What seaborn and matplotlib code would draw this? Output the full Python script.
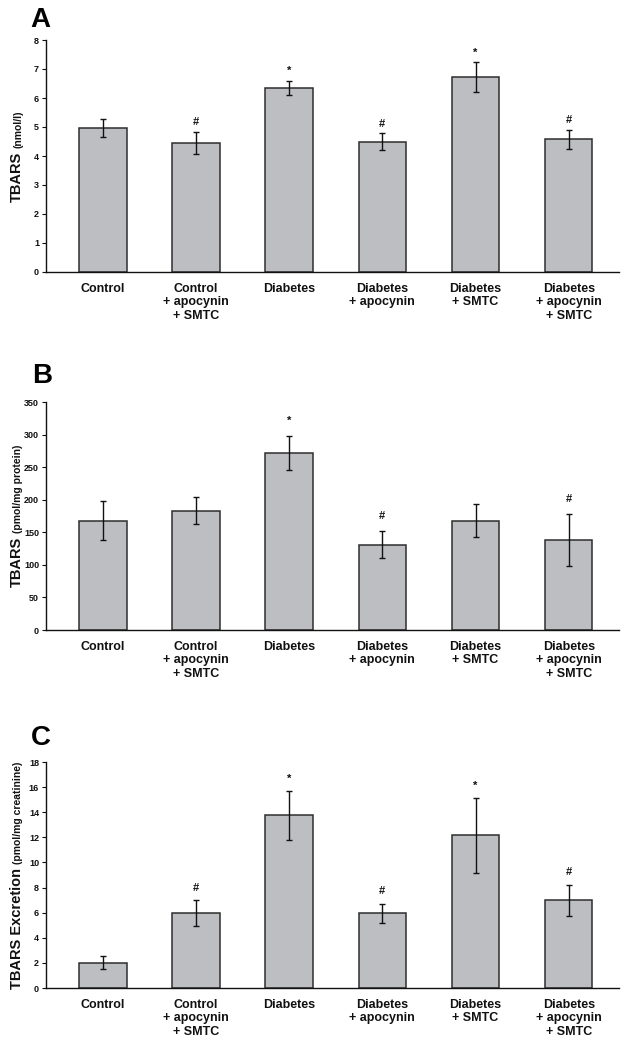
import matplotlib
matplotlib.use('Agg')
import matplotlib.pyplot as plt
import seaborn as sns
import pandas as pd

# Data
groups = ["Control", "Control\n+ apocynin\n+ SMTC", "Diabetes",
          "Diabetes\n+ apocynin", "Diabetes\n+ SMTC",
          "Diabetes\n+ apocynin\n+ SMTC"]

plasma_tbars = [4.97, 4.45, 6.35, 4.49, 6.72, 4.57]
plasma_sem = [0.30, 0.37, 0.25, 0.29, 0.51, 0.32]
plasma_marks = ["", "#", "*", "#", "*", "#"]

tissue_tbars = [168, 183, 272, 131, 168, 138]
tissue_sem = [30, 21, 26, 21, 26, 40]
tissue_marks = ["", "", "*", "#", "", "#"]

urine_tbars = [2.0, 5.95, 13.75, 5.95, 12.15, 7.0]
urine_sem = [0.52, 1.05, 1.93, 0.78, 2.97, 1.23]
urine_marks = ["", "#", "*", "#", "*", "#"]

# Style
sns.set_style('ticks')
plt.rcParams['font.family'] = ['Liberation Sans', 'DejaVu Sans']
plt.rcParams['font.weight'] = 'bold'
for key in ('text.color', 'axes.labelcolor', 'xtick.color', 'ytick.color'):
    plt.rcParams[key] = '#111111'

BAR = '#bdbec2'
EDGE = '#2e2e2e'
W, H = 624, 1042

fig = plt.figure(figsize=(W / 100, H / 100), dpi=100)
renderer = fig.canvas.get_renderer()


def add_ax(left, top, right, bottom):
    return fig.add_axes([left / W, 1 - bottom / H,
                         (right - left) / W, (bottom - top) / H])


def ylabel(ax, main, unit):
    # big bold name followed by a smaller unit, centred on the axis
    pos = ax.get_position()
    cy = (pos.y0 + pos.y1) / 2 * H
    x = 21 / W
    kw = dict(rotation=90, rotation_mode='anchor', ha='left',
              va='baseline', fontweight='bold')
    t1 = fig.text(x, 0, main, fontsize=10.5, **kw)
    t2 = fig.text(x, 0, unit, fontsize=7.5, **kw)
    l1 = t1.get_window_extent(renderer).height
    l2 = t2.get_window_extent(renderer).height
    gap = 4
    y0 = cy - (l1 + gap + l2) / 2
    t1.set_y(y0 / H)
    t2.set_y((y0 + l1 + gap) / H)


panels = [
    ('A', plasma_tbars, plasma_sem, plasma_marks, 8, 1,
     'TBARS', '(nmol/l)', (46, 40, 619, 272), (30, 27), 7),
    ('B', tissue_tbars, tissue_sem, tissue_marks, 350, 50,
     'TBARS', '(pmol/mg protein)', (46, 402, 619, 630), (32, 383), 11),
    ('C', urine_tbars, urine_sem, urine_marks, 18, 2,
     'TBARS Excretion', '(pmol/mg creatinine)', (46, 762, 619, 988),
     (31, 745), 9),
]

for letter, vals, sem, marks, ymax, step, lab, unit, box, lxy, moff in panels:
    ax = add_ax(*box)
    df = pd.DataFrame({'group': groups, 'value': vals})
    sns.barplot(data=df, x='group', y='value', ax=ax, color=BAR,
                saturation=1, edgecolor=EDGE, linewidth=1.1, width=0.51,
                errorbar=None)
    xs = range(len(groups))
    ax.errorbar(xs, vals, yerr=sem, fmt='none', ecolor='#111111',
                elinewidth=1, capsize=2, capthick=1)
    for i, m in enumerate(marks):
        if m:
            ax.annotate(m, xy=(i, vals[i] + sem[i]), xytext=(0, moff),
                        textcoords='offset points', ha='center',
                        va='center', fontsize=8, fontweight='bold')

    ax.set_xlim(-0.61, 5.54)
    ax.set_ylim(0, ymax)
    ax.set_yticks(range(0, ymax + 1, step))
    ax.set_xlabel('')
    ax.set_ylabel('')
    sns.despine(ax=ax)
    for s in ('left', 'bottom'):
        ax.spines[s].set_color('#111111')
        ax.spines[s].set_linewidth(1)
    ax.tick_params(axis='x', length=0, pad=8, labelsize=9)
    ax.tick_params(axis='y', length=3, width=0.8, pad=2, labelsize=6.5)
    for t in ax.get_xticklabels():
        t.set_linespacing(1.15)
        t.set_fontweight('bold')
    for t in ax.get_yticklabels():
        t.set_family(['Liberation Sans Narrow', 'Liberation Sans'])
        t.set_fontweight('bold')

    fig.text(lxy[0] / W, 1 - lxy[1] / H, letter, fontsize=20,
             fontweight='bold', ha='left', va='baseline', color='black')
    ylabel(ax, lab, unit)

fig.savefig('out.png', dpi=100)
